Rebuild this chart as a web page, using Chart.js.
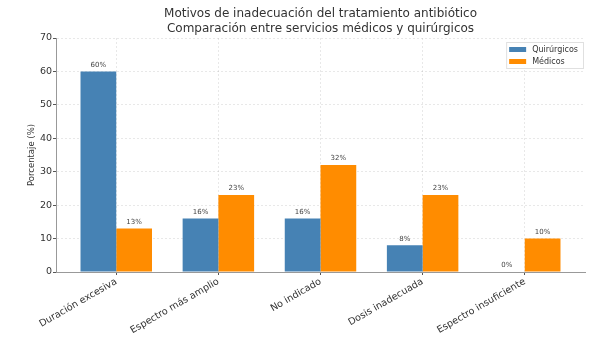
<!DOCTYPE html>
<html>
<head>
<meta charset="utf-8">
<script src="https://cdn.jsdelivr.net/npm/chart.js@4/dist/chart.umd.min.js"></script>
<style>
  html, body { margin: 0; padding: 0; background: #fff; }
  #wrap { width: 600px; height: 338px; }
</style>
</head>
<body>
<div id="wrap"><canvas id="chart" width="600" height="338"></canvas></div>
<script>
const categories = ["Duración excesiva", "Espectro más amplio", "No indicado", "Dosis inadecuada", "Espectro insuficiente"];
const quirurgicos = [60, 16, 16, 8, 0];
const medicos = [13, 23, 32, 23, 10];
const yTicks = [0, 10, 20, 30, 40, 50, 60, 70];

const BLUE = "#4682B4";
const ORANGE = "#FF8C00";
const GRID = "rgba(0,0,0,0.09)";

Chart.defaults.font.family = "'DejaVu Sans', sans-serif";
Chart.defaults.color = "#333";

// percentage labels above each bar
const barLabels = {
  id: "barLabels",
  afterDatasetsDraw(chart) {
    const ctx = chart.ctx;
    ctx.save();
    ctx.font = "7px 'DejaVu Sans'";
    ctx.fillStyle = "#444";
    ctx.textAlign = "center";
    ctx.textBaseline = "bottom";
    chart.data.datasets.forEach((ds, i) => {
      chart.getDatasetMeta(i).data.forEach((bar, j) => {
        ctx.fillText(ds.data[j].y + "%", bar.x, bar.y - 3);
      });
    });
    ctx.restore();
  }
};

// legend box inside the plot, top right
const innerLegend = {
  id: "innerLegend",
  afterDraw(chart) {
    const ctx = chart.ctx;
    const area = chart.chartArea;
    ctx.save();
    ctx.font = "8px 'DejaVu Sans'";
    const names = chart.data.datasets.map(d => d.label);
    const tw = Math.max(...names.map(n => ctx.measureText(n).width));
    const w = 3 + 17 + 6 + tw + 5;
    const h = 26;
    const x0 = area.right - 2 - w;
    const y0 = area.top + 4;
    ctx.fillStyle = "rgba(255,255,255,0.9)";
    ctx.strokeStyle = "#e0e0e0";
    ctx.lineWidth = 1;
    ctx.fillRect(x0, y0, w, h);
    ctx.strokeRect(x0 + 0.5, y0 + 0.5, w, h);
    chart.data.datasets.forEach((ds, i) => {
      const cy = y0 + 7 + i * 12;
      ctx.fillStyle = ds.backgroundColor;
      ctx.fillRect(x0 + 3, cy - 2, 17, 5);
      ctx.fillStyle = "#333";
      ctx.textBaseline = "middle";
      ctx.fillText(ds.label, x0 + 26, cy + 0.5);
    });
    ctx.restore();
  }
};

new Chart(document.getElementById("chart"), {
  type: "bar",
  data: {
    datasets: [
      { label: "Quirúrgicos", data: quirurgicos.map((v, i) => ({ x: i, y: v })), backgroundColor: BLUE },
      { label: "Médicos", data: medicos.map((v, i) => ({ x: i, y: v })), backgroundColor: ORANGE }
    ]
  },
  options: {
    responsive: false,
    animation: false,
    layout: { padding: { left: 0, right: 15, top: 0, bottom: 0 } },
    datasets: { bar: { barPercentage: 1, categoryPercentage: 0.7, borderWidth: 0 } },
    plugins: {
      legend: { display: false },
      tooltip: { enabled: false },
      title: {
        display: true,
        fullSize: false,
        text: ["Motivos de inadecuación del tratamiento antibiótico", "Comparación entre servicios médicos y quirúrgicos"],
        color: "#333",
        font: { size: 12, weight: "normal", lineHeight: 1.25 },
        padding: { top: 6, bottom: 2 }
      }
    },
    scales: {
      x: {
        type: "linear",
        offset: false,
        min: -0.59,
        max: 4.59,
        afterBuildTicks: s => { s.ticks = categories.map((c, i) => ({ value: i })); },
        afterFit: s => { s.height = 66; },
        ticks: {
          callback: v => categories[v],
          autoSkip: false,
          minRotation: 30,
          maxRotation: 30,
          padding: 1,
          color: "#333",
          font: { size: 9.6 }
        },
        grid: { offset: false, color: GRID, tickLength: 3, tickColor: "#555" },
        border: { color: "#999", width: 1, dash: [2, 2] }
      },
      y: {
        min: 0,
        max: 70,
        afterBuildTicks: s => { s.ticks = yTicks.map(v => ({ value: v })); },
        afterFit: s => { s.width = 56; },
        ticks: { color: "#333", font: { size: 9.5 }, padding: 1 },
        grid: { color: GRID, tickLength: 3, tickColor: "#555" },
        border: { color: "#999", width: 1, dash: [2, 2] },
        title: {
          display: true,
          text: "Porcentaje (%)",
          color: "#333",
          font: { size: 8.5 },
          padding: { top: 27, bottom: 0 }
        }
      }
    }
  },
  plugins: [barLabels, innerLegend]
});
</script>
</body>
</html>
